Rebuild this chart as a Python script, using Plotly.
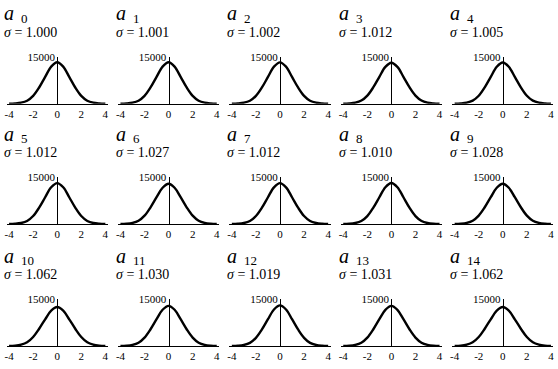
import plotly.graph_objects as go

# ---- data ----
x_bins = [-4.0, -3.5, -3.0, -2.5, -2.0, -1.5, -1.0, -0.5, 0.0,
          0.5, 1.0, 1.5, 2.0, 2.5, 3.0, 3.5, 4.0]

labels = ["0", "1", "2", "3", "4", "5", "6", "7", "8", "9",
          "10", "11", "12", "13", "14"]
sigmas = ["1.000", "1.001", "1.002", "1.012", "1.005",
          "1.012", "1.027", "1.012", "1.010", "1.028",
          "1.062", "1.030", "1.019", "1.031", "1.062"]

h0 = [20, 90, 320, 950, 2500, 5200, 8600, 11900, 13300, 11900, 8600, 5200, 2500, 950, 320, 90, 20]
h1 = [20, 91, 322, 955, 2505, 5205, 8600, 11890, 13290, 11890, 8600, 5205, 2505, 955, 322, 91, 20]
h2 = [21, 92, 325, 960, 2510, 5210, 8600, 11880, 13270, 11880, 8600, 5210, 2510, 960, 325, 92, 21]
h3 = [22, 98, 342, 1000, 2590, 5290, 8620, 11810, 13150, 11810, 8620, 5290, 2590, 1000, 342, 98, 22]
h4 = [21, 94, 330, 975, 2540, 5240, 8610, 11860, 13230, 11860, 8610, 5240, 2540, 975, 330, 94, 21]
h5 = [22, 99, 340, 1002, 2588, 5292, 8618, 11812, 13148, 11812, 8618, 5292, 2588, 1002, 340, 99, 22]
h6 = [26, 110, 378, 1083, 2715, 5395, 8620, 11665, 12940, 11665, 8620, 5395, 2715, 1083, 378, 110, 26]
h7 = [22, 97, 343, 998, 2592, 5288, 8622, 11808, 13152, 11808, 8622, 5288, 2592, 998, 343, 97, 22]
h8 = [22, 96, 338, 992, 2578, 5280, 8618, 11820, 13170, 11820, 8618, 5280, 2578, 992, 338, 96, 22]
h9 = [26, 111, 380, 1086, 2722, 5402, 8620, 11660, 12930, 11660, 8620, 5402, 2722, 1086, 380, 111, 26]
h10 = [32, 130, 440, 1200, 2900, 5560, 8600, 11400, 12550, 11400, 8600, 5560, 2900, 1200, 440, 130, 32]
h11 = [26, 112, 382, 1090, 2728, 5406, 8620, 11655, 12920, 11655, 8620, 5406, 2728, 1090, 382, 112, 26]
h12 = [24, 104, 360, 1040, 2650, 5340, 8620, 11740, 13050, 11740, 8620, 5340, 2650, 1040, 360, 104, 24]
h13 = [27, 112, 384, 1092, 2732, 5408, 8620, 11650, 12915, 11650, 8620, 5408, 2732, 1092, 384, 112, 27]
h14 = [32, 131, 442, 1202, 2902, 5562, 8598, 11398, 12545, 11398, 8598, 5562, 2902, 1202, 442, 131, 32]

x_tickvals = [-4, -2, 0, 2, 4]
x_ticktext = ["-4", "-2", "0", "2", "4"]
y_tickvals = [15000]
y_ticktext = ["15000"]

counts = [h0, h1, h2, h3, h4, h5, h6, h7, h8, h9, h10, h11, h12, h13, h14]

# ---- layout geometry (pixels) ----
W, H = 558, 369
col_zero = [55.5 + 112 * c for c in range(5)]   # pixel x of x=0
row_base = [99.3, 221.7, 345.7]                  # pixel y of y=0
ppu = 12.1
x_range = [-4.2, 4.2]
y_span_px = 47.5
FONT = "Liberation Serif"

fig = go.Figure()
layout = {}
annotations = []

for i in range(15):
    r, c = divmod(i, 5)
    sfx = "" if i == 0 else str(i + 1)
    xa, ya = "x" + sfx, "y" + sfx
    fig.add_trace(go.Scatter(
        x=x_bins, y=counts[i], mode="lines",
        line=dict(color="black", width=2.4, shape="spline", smoothing=1.0),
        xaxis=xa, yaxis=ya, showlegend=False, hoverinfo="skip"))

    x0 = col_zero[c] + x_range[0] * ppu
    x1 = col_zero[c] + x_range[1] * ppu
    yb = row_base[r]
    yt = yb - y_span_px
    layout["xaxis" + sfx] = dict(
        domain=[x0 / W, x1 / W], range=x_range, anchor=ya,
        showline=True, linecolor="black", linewidth=1,
        showgrid=False, zeroline=False, ticks="",
        tickvals=x_tickvals, ticktext=x_ticktext,
        tickfont=dict(family=FONT, size=11, color="black"), fixedrange=True)
    layout["yaxis" + sfx] = dict(
        domain=[1 - yb / H, 1 - yt / H], range=[0, 15000],
        anchor="free", position=col_zero[c] / W,
        showline=True, linecolor="black", linewidth=1.2,
        showgrid=False, zeroline=False, ticks="inside", ticklen=3,
        tickcolor="black", tickvals=y_tickvals, ticktext=y_ticktext,
        tickfont=dict(family=FONT, size=11, color="black"), fixedrange=True)

    left = col_zero[c] - 55
    annotations.append(dict(
        text="<i>a</i>", x=left / W, y=1 - (yb - 92.0) / H,
        xref="paper", yref="paper", xanchor="left", yanchor="middle",
        height=16, valign="middle",
        showarrow=False, font=dict(family=FONT, size=20, color="black")))
    annotations.append(dict(
        text=labels[i], x=(left + 17) / W, y=1 - (yb - 87.0) / H,
        xref="paper", yref="paper", xanchor="left", yanchor="middle",
        showarrow=False, font=dict(family=FONT, size=13, color="black")))
    annotations.append(dict(
        text="<i>σ</i> = " + sigmas[i], x=(col_zero[c] - 55) / W,
        y=1 - (yb - 72.5) / H,
        xref="paper", yref="paper", xanchor="left", yanchor="middle",
        showarrow=False, font=dict(family=FONT, size=14, color="black")))

fig.update_layout(
    width=W, height=H, margin=dict(l=0, r=0, t=0, b=0),
    paper_bgcolor="white", plot_bgcolor="white",
    font=dict(family=FONT, color="black"),
    annotations=annotations, **layout)

fig.write_html("out.html")
